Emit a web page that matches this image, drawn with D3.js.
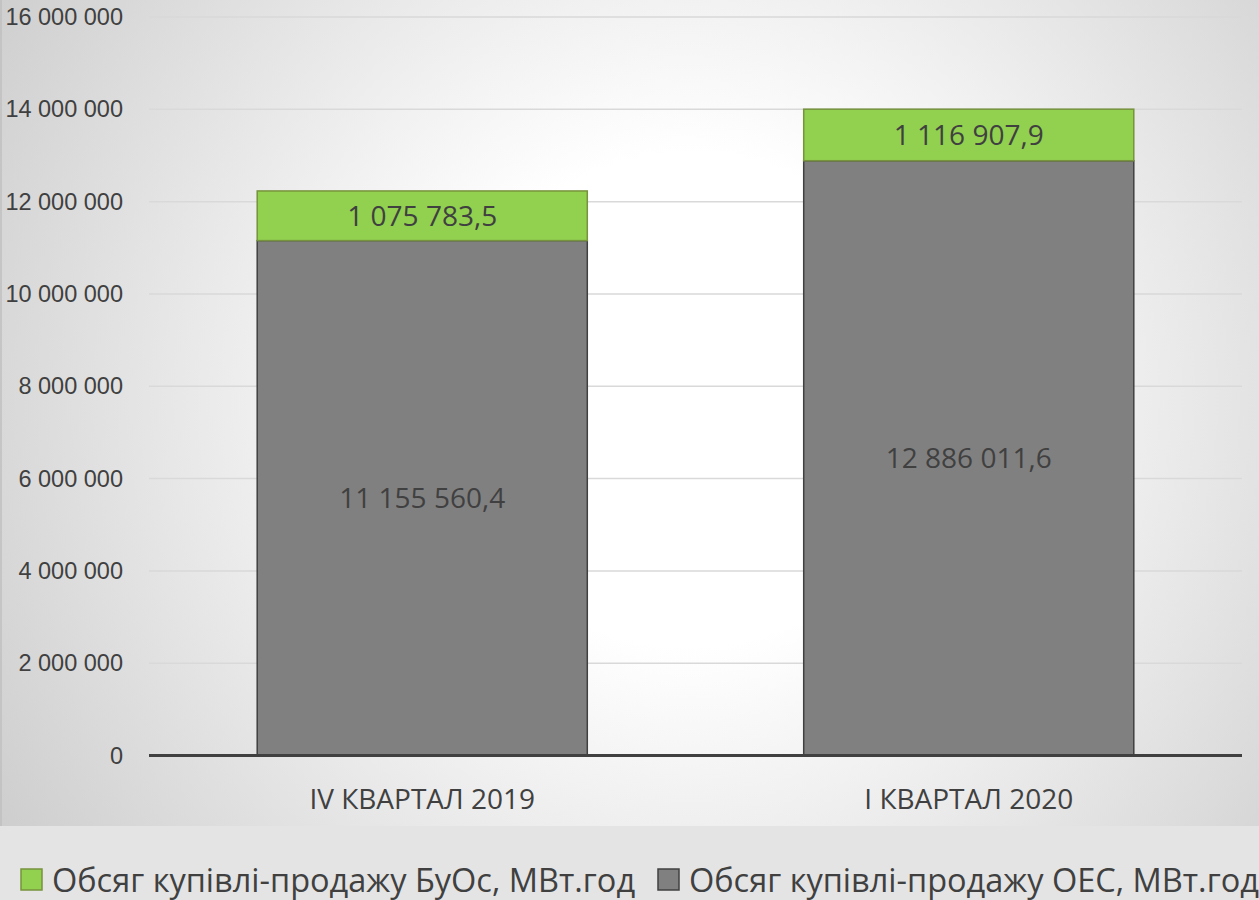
<!DOCTYPE html>
<html>
<head>
<meta charset="utf-8">
<script src="https://cdn.jsdelivr.net/npm/d3@7"></script>
<style>
  body { margin: 0; background: #e4e4e4; }
  svg { display: block; font-family: "Open Sans", sans-serif; }
</style>
</head>
<body>
<div id="chart"></div>
<script>
// data
const categories = ["IV КВАРТАЛ 2019", "I КВАРТАЛ 2020"];
const oesValues = [11155560.4, 12886011.6];
const buosValues = [1075783.5, 1116907.9];
const seriesNames = ["Обсяг купівлі-продажу БуОс, МВт.год", "Обсяг купівлі-продажу ОЕС, МВт.год"];
const yTicks = [0, 2000000, 4000000, 6000000, 8000000, 10000000, 12000000, 14000000, 16000000];

const W = 1259, H = 900;
const margin = {top: 17, right: 17, bottom: 144.5, left: 149};
const width = W - margin.left - margin.right;
const height = H - margin.top - margin.bottom;

const fmt = v => d3.format(",.1f")(v).replace(/,/g, " ").replace(".", ",");
const fmtTick = v => d3.format(",")(v).replace(/,/g, " ");

const svg = d3.select("#chart").append("svg")
    .attr("width", W)
    .attr("height", H);

const defs = svg.append("defs");
const grad = defs.append("radialGradient")
    .attr("id", "bg")
    .attr("gradientUnits", "userSpaceOnUse")
    .attr("cx", 690).attr("cy", 400).attr("r", 820);
grad.append("stop").attr("offset", "0%").attr("stop-color", "#ffffff");
grad.append("stop").attr("offset", "30%").attr("stop-color", "#ffffff");
grad.append("stop").attr("offset", "100%").attr("stop-color", "#cdcdcd");

// backgrounds
svg.append("rect").attr("x", 0).attr("y", 0).attr("width", W).attr("height", 826)
    .attr("fill", "url(#bg)");
svg.append("rect").attr("x", 0).attr("y", 826).attr("width", W).attr("height", H - 826)
    .attr("fill", "#e4e4e4");
svg.append("line").attr("x1", 1).attr("x2", 1).attr("y1", 0).attr("y2", 826)
    .attr("stroke", "#bfbfbf").attr("stroke-width", 1.5);

const g = svg.append("g")
    .attr("transform", "translate(" + margin.left + "," + margin.top + ")");

const xScale = d3.scaleBand().domain(categories).range([0, width]).paddingInner(0.396).paddingOuter(0.198);
const yScale = d3.scaleLinear().domain([0, 16000000]).range([height, 0]);

// gridlines
g.append("g").attr("class", "grid")
    .selectAll("line")
    .data(yTicks.slice(1))
    .join("line")
    .attr("x1", 0).attr("x2", width)
    .attr("y1", d => yScale(d)).attr("y2", d => yScale(d))
    .attr("stroke", "#d9d9d9").attr("stroke-width", 1.5);

// y axis labels
const yAxis = g.append("g").attr("class", "yAxisG")
    .call(d3.axisLeft(yScale).tickValues(yTicks).tickFormat(fmtTick).tickSize(0).tickPadding(26));
yAxis.select(".domain").remove();
yAxis.selectAll("text")
    .attr("fill", "#404040")
    .style("font-size", "23.5px");

// stacked bars
const stackData = categories.map((c, i) => ({cat: c, oes: oesValues[i], buos: buosValues[i]}));
const stack = d3.stack().keys(["oes", "buos"])(stackData);
const fills = {oes: "#808080", buos: "#92d050"};
const strokes = {oes: "#404040", buos: "#77933c"};

stack.forEach(layer => {
    const lg = g.append("g").attr("class", "layer-" + layer.key);
    lg.selectAll("rect")
        .data(layer)
        .join("rect")
        .attr("x", d => xScale(d.data.cat))
        .attr("width", xScale.bandwidth())
        .attr("y", d => yScale(d[1]))
        .attr("height", d => yScale(d[0]) - yScale(d[1]))
        .attr("fill", fills[layer.key])
        .attr("stroke", strokes[layer.key])
        .attr("stroke-width", 1.5);
    lg.selectAll("text")
        .data(layer)
        .join("text")
        .attr("x", d => xScale(d.data.cat) + xScale.bandwidth() / 2)
        .attr("y", d => (yScale(d[0]) + yScale(d[1])) / 2)
        .attr("dy", "0.35em")
        .attr("text-anchor", "middle")
        .attr("fill", "#404040")
        .style("font-size", "28px")
        .text(d => fmt(d[1] - d[0]));
});

// baseline
g.append("line")
    .attr("x1", 0).attr("x2", width)
    .attr("y1", height).attr("y2", height)
    .attr("stroke", "#404040").attr("stroke-width", 3);

// category labels
g.append("g").selectAll("text")
    .data(categories)
    .join("text")
    .attr("x", d => xScale(d) + xScale.bandwidth() / 2)
    .attr("y", height + 53)
    .attr("text-anchor", "middle")
    .attr("fill", "#404040")
    .style("font-size", "28px")
    .text(d => d);

// legend
const legendItems = [
    {name: seriesNames[0], fill: fills.buos, stroke: strokes.buos, x: 21},
    {name: seriesNames[1], fill: fills.oes, stroke: strokes.oes, x: 658}
];
const legend = svg.append("g").attr("class", "legend");
legendItems.forEach(it => {
    legend.append("rect")
        .attr("x", it.x).attr("y", 869)
        .attr("width", 21).attr("height", 21)
        .attr("fill", it.fill).attr("stroke", it.stroke).attr("stroke-width", 1.5);
    legend.append("text")
        .attr("x", it.x + 31).attr("y", 892)
        .attr("fill", "#404040")
        .style("font-size", "32.5px")
        .text(it.name);
});
</script>
</body>
</html>
